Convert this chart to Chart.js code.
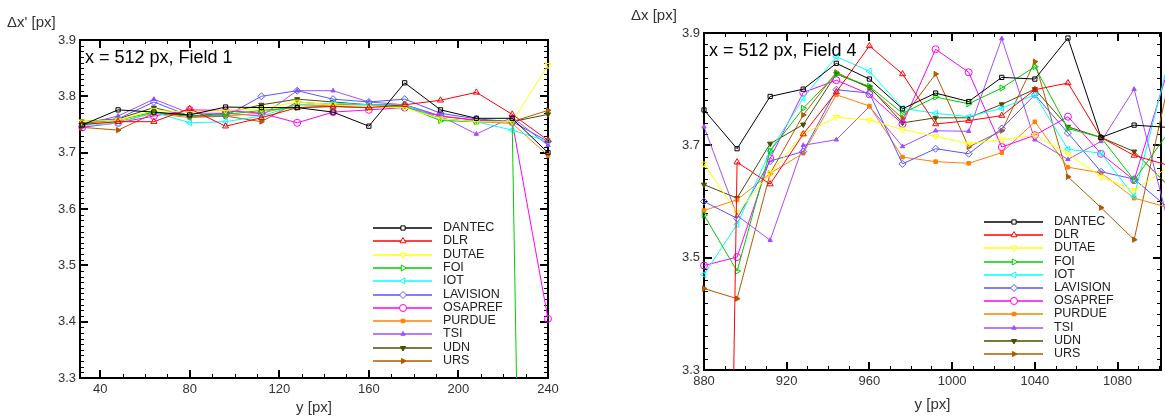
<!DOCTYPE html>
<html>
<head>
<meta charset="utf-8">
<script src="https://cdn.jsdelivr.net/npm/chart.js@4.4.1/dist/chart.umd.min.js"></script>
<style>
  html, body { margin: 0; padding: 0; background: #fff; overflow: hidden; }
  #wrap { position: relative; width: 1165px; height: 419px; overflow: hidden; }
  #field1 { position: absolute; left: 0; top: 0; }
  #field4 { position: absolute; left: 590px; top: 0; }
</style>
</head>
<body>
<div id="wrap">
  <canvas id="field1" width="590" height="419"></canvas>
  <canvas id="field4" width="576" height="419"></canvas>
</div>
<script>
const lineNames = ['DANTEC', 'DLR', 'DUTAE', 'FOI', 'IOT', 'LAVISION', 'OSAPREF', 'PURDUE', 'TSI', 'UDN', 'URS'];

// Field 1 panel: y positions and values per group
const f1Y = [32, 48, 64, 80, 96, 112, 128, 144, 160, 176, 192, 208, 224, 240];
const f1Dantec   = [3.749, 3.776, 3.772, 3.767, 3.781, 3.780, 3.780, 3.772, 3.747, 3.824, 3.776, 3.761, 3.761, 3.700];
const f1Dlr      = [3.750, 3.755, 3.755, 3.778, 3.747, 3.762, 3.780, 3.782, 3.780, 3.785, 3.793, 3.807, 3.768, 3.722];
const f1Dutae    = [3.755, 3.758, 3.775, 3.772, 3.775, 3.778, 3.790, 3.785, 3.780, 3.780, 3.760, 3.755, 3.755, 3.855];
const f1Foi      = [3.752, 3.758, 3.772, 3.765, 3.768, 3.775, 3.780, 3.782, 3.780, 3.782, 3.757, 3.755, 3.755, 0.0];
const f1Iot      = [3.748, 3.752, 3.772, 3.753, 3.755, 3.765, 3.785, 3.788, 3.785, 3.785, 3.760, 3.755, 3.740, 3.720];
const f1Lavision = [3.752, 3.760, 3.790, 3.765, 3.765, 3.800, 3.810, 3.795, 3.790, 3.795, 3.770, 3.760, 3.755, 3.720];
const f1Osapref  = [3.745, 3.753, 3.765, 3.776, 3.775, 3.770, 3.753, 3.772, 3.776, 3.780, 3.765, 3.757, 3.755, 3.405];
const f1Purdue   = [3.750, 3.755, 3.770, 3.762, 3.765, 3.770, 3.785, 3.783, 3.780, 3.782, 3.760, 3.755, 3.752, 3.695];
const f1Tsi      = [3.750, 3.765, 3.795, 3.770, 3.770, 3.765, 3.810, 3.810, 3.790, 3.785, 3.765, 3.733, 3.763, 3.713];
const f1Udn      = [3.755, 3.760, 3.780, 3.765, 3.770, 3.785, 3.795, 3.790, 3.785, 3.785, 3.760, 3.755, 3.755, 3.768];
const f1Urs      = [3.745, 3.740, 3.770, 3.765, 3.765, 3.755, 3.790, 3.785, 3.785, 3.785, 3.765, 3.758, 3.755, 3.775];

// Field 4 panel
const f4Y = [880, 896, 912, 928, 944, 960, 976, 992, 1008, 1024, 1040, 1056, 1072, 1088, 1104];
const f4Dantec   = [3.763, 3.694, 3.787, 3.800, 3.846, 3.818, 3.765, 3.793, 3.778, 3.821, 3.818, 3.891, 3.714, 3.736, 3.732];
const f4Dlr      = [0.0, 3.670, 3.631, 3.720, 3.795, 3.877, 3.827, 3.738, 3.744, 3.753, 3.799, 3.811, 3.714, 3.682, 3.665];
const f4Dutae    = [3.667, 3.580, 3.650, 3.720, 3.750, 3.745, 3.728, 3.716, 3.703, 3.710, 3.718, 3.685, 3.644, 3.620, 3.660];
const f4Foi      = [3.576, 3.476, 3.690, 3.766, 3.827, 3.805, 3.757, 3.786, 3.774, 3.802, 3.840, 3.730, 3.714, 3.638, 3.720];
const f4Iot      = [3.470, 3.559, 3.690, 3.784, 3.858, 3.832, 3.766, 3.757, 3.751, 3.766, 3.790, 3.693, 3.686, 3.609, 3.840];
const f4Lavision = [3.600, 3.570, 3.672, 3.689, 3.799, 3.793, 3.667, 3.694, 3.685, 3.730, 3.790, 3.722, 3.653, 3.640, 3.590];
const f4Osapref  = [3.486, 3.501, 3.677, 3.794, 3.816, 3.791, 3.738, 3.871, 3.830, 3.697, 3.718, 3.751, 3.685, 3.638, 3.830];
const f4Purdue   = [3.584, 3.603, 3.650, 3.686, 3.790, 3.770, 3.679, 3.671, 3.668, 3.687, 3.742, 3.661, 3.651, 3.606, 3.590];
const f4Tsi      = [3.733, 3.575, 3.531, 3.700, 3.710, 3.769, 3.698, 3.726, 3.725, 3.890, 3.710, 3.675, 3.707, 3.800, 3.570];
const f4Udn      = [3.630, 3.606, 3.703, 3.737, 3.827, 3.804, 3.740, 3.749, 3.749, 3.773, 3.800, 3.733, 3.714, 3.689, 3.630];
const f4Urs      = [3.445, 3.427, 3.650, 3.754, 3.830, 3.802, 3.748, 3.827, 3.697, 3.726, 3.849, 3.644, 3.589, 3.532, 3.800];

// tick labels
const f1XTicks = [40, 80, 120, 160, 200, 240];
const f1YTicks = [3.3, 3.4, 3.5, 3.6, 3.7, 3.8, 3.9];
const f4XTicks = [880, 920, 960, 1000, 1040, 1080];
const f4YTicks = [3.3, 3.5, 3.7, 3.9];

// marker look for each group
const lineColors = ['#000000', '#ff0000', '#ffff00', '#00cc00', '#00ffff', '#5555ff', '#ff00ff', '#ff8000', '#a34dff', '#4d4d00', '#b35900'];
const markerStyles = ['rect', 'triangle', 'triangle', 'triangle', 'triangle', 'rectRot', 'circle', 'rect', 'triangle', 'triangle', 'triangle'];
const markerTurns = [0, 0, 180, 90, 270, 0, 0, 0, 0, 180, 90];
const markerFilled = [false, false, false, false, false, false, false, true, true, true, true];
const markerSizes = [3, 3.5, 3.5, 3.5, 3.5, 3.5, 3.5, 2.5, 2.5, 3, 3];

const fontFamily = '"Liberation Sans", Arial, Helvetica, sans-serif';
Chart.defaults.font.family = fontFamily;

function makeDatasets(xs, groups) {
	return groups.map((vals, i) => ({
		label: lineNames[i],
		data: xs.map((x, k) => ({x: x, y: vals[k]})),
		borderColor: lineColors[i],
		backgroundColor: lineColors[i],
		borderWidth: 1,
		pointStyle: markerStyles[i],
		pointRotation: markerTurns[i],
		pointRadius: markerSizes[i],
		pointBorderWidth: 1,
		pointBorderColor: lineColors[i],
		pointBackgroundColor: markerFilled[i] ? lineColors[i] : 'rgba(0,0,0,0)',
		tension: 0,
		clip: {left: 6, top: 6, right: 6, bottom: 0}
	}));
}

// frame plus inward major / minor tick marks on all four sides
const framePlugin = {
	id: 'frame',
	beforeDatasetsDraw(chart, args, opts) {
		const {ctx, chartArea: a, scales: {x, y}} = chart;
		ctx.save();
		ctx.strokeStyle = '#000';

		ctx.lineWidth = 1;
		ctx.beginPath();
		for (let k = Math.ceil(x.min / opts.xMinor); k * opts.xMinor <= x.max; k++) {
			let px = Math.round(x.getPixelForValue(k * opts.xMinor)) + 0.5;
			ctx.moveTo(px, a.bottom); ctx.lineTo(px, a.bottom - 4);
			ctx.moveTo(px, a.top); ctx.lineTo(px, a.top + 4);
		}
		for (let k = Math.ceil(y.min / opts.yMinor - 1e-6); k * opts.yMinor <= y.max + 1e-6; k++) {
			let py = Math.round(y.getPixelForValue(k * opts.yMinor)) + 0.5;
			ctx.moveTo(a.left, py); ctx.lineTo(a.left + 4, py);
			ctx.moveTo(a.right, py); ctx.lineTo(a.right - 4, py);
		}
		ctx.stroke();

		ctx.lineWidth = 2;
		ctx.beginPath();
		x.ticks.forEach(t => {
			let px = Math.round(x.getPixelForValue(t.value));
			ctx.moveTo(px, a.bottom); ctx.lineTo(px, a.bottom - 8);
			ctx.moveTo(px, a.top); ctx.lineTo(px, a.top + 8);
		});
		y.ticks.forEach(t => {
			let py = Math.round(y.getPixelForValue(t.value));
			ctx.moveTo(a.left, py); ctx.lineTo(a.left + 8, py);
			ctx.moveTo(a.right, py); ctx.lineTo(a.right - 8, py);
		});
		ctx.stroke();

		ctx.strokeRect(a.left, a.top, a.right - a.left, a.bottom - a.top);
		ctx.restore();
	}
};

// legend box inside the plot, lines with markers
const keyPlugin = {
	id: 'key',
	afterDatasetsDraw(chart, args, opts) {
		const ctx = chart.ctx;
		ctx.save();
		chart.data.datasets.forEach((ds, i) => {
			let yy = Math.round(opts.y + i * opts.step);
			ctx.strokeStyle = ds.borderColor;
			ctx.globalAlpha = 0.75;
			ctx.lineWidth = 2;
			ctx.beginPath();
			ctx.moveTo(opts.x, yy);
			ctx.lineTo(opts.x + 59, yy);
			ctx.stroke();
			ctx.globalAlpha = 1;
			ctx.lineWidth = 1;
			ctx.fillStyle = ds.pointBackgroundColor === 'rgba(0,0,0,0)' ? '#fff' : ds.pointBackgroundColor;
			Chart.helpers.drawPoint(ctx, {
				pointStyle: ds.pointStyle,
				rotation: ds.pointRotation,
				radius: ds.pointRadius,
				borderWidth: 1
			}, opts.x + 30, yy);
			ctx.fillStyle = '#222';
			ctx.font = '12.5px ' + fontFamily;
			ctx.textBaseline = 'middle';
			ctx.fillText(ds.label, opts.x + 70, yy);
		});
		ctx.restore();
	}
};

// axis title above the y axis and panel note
const notePlugin = {
	id: 'note',
	afterDraw(chart, args, opts) {
		const {ctx, chartArea: a} = chart;
		ctx.save();
		ctx.fillStyle = '#333';
		ctx.font = '15px ' + fontFamily;
		ctx.textBaseline = 'middle';
		ctx.fillText(opts.axisTitle, a.left - 73, a.top - 17);
		ctx.fillStyle = '#000';
		ctx.font = '18px ' + fontFamily;
		ctx.textBaseline = 'alphabetic';
		ctx.fillText(opts.text, a.left + 5, a.top + 23);
		ctx.restore();
	}
};

function createPanel(id, xs, groups, cfg) {
	return new Chart(document.getElementById(id), {
		type: 'line',
		data: { datasets: makeDatasets(xs, groups) },
		plugins: [framePlugin, keyPlugin, notePlugin],
		options: {
			responsive: false,
			animation: false,
			layout: { padding: cfg.padding },
			plugins: {
				legend: { display: false },
				tooltip: { enabled: false },
				frame: { xMinor: 10, yMinor: cfg.yMinor },
				key: cfg.key,
				note: { axisTitle: cfg.axisTitle, text: cfg.note }
			},
			scales: {
				x: {
					type: 'linear',
					min: cfg.xMin,
					max: cfg.xMax,
					afterBuildTicks: s => { s.ticks = cfg.xTicks.map(v => ({value: v})); },
					afterFit: s => { s.height = cfg.xHeight; },
					grid: { display: false, drawTicks: false },
					border: { display: false },
					ticks: { color: '#333', font: { size: 13 }, padding: 4, maxRotation: 0, autoSkip: false, callback: v => String(v) },
					title: { display: true, text: 'y [px]', color: '#333', font: { size: 15 }, padding: { top: 0, bottom: cfg.titlePad } }
				},
				y: {
					type: 'linear',
					min: 3.3,
					max: 3.9,
					afterBuildTicks: s => { s.ticks = cfg.yTicks.map(v => ({value: v})); },
					afterFit: s => { s.width = cfg.yWidth; },
					grid: { display: false, drawTicks: false },
					border: { display: false },
					ticks: { color: '#333', font: { size: 13 }, padding: 4, autoSkip: false, callback: v => v.toFixed(1) }
				}
			}
		}
	});
}

createPanel('field1', f1Y,
	[f1Dantec, f1Dlr, f1Dutae, f1Foi, f1Iot, f1Lavision, f1Osapref, f1Purdue, f1Tsi, f1Udn, f1Urs], {
	padding: { left: 0, top: 40, right: 42, bottom: 0 },
	xMin: 31, xMax: 240, xTicks: f1XTicks, yTicks: f1YTicks, yMinor: 0.01,
	xHeight: 41, yWidth: 80, titlePad: 2,
	key: { x: 373, y: 228, step: 13.3 },
	axisTitle: "\u0394x' [px]",
	note: 'x = 512 px, Field 1'
});

createPanel('field4', f4Y,
	[f4Dantec, f4Dlr, f4Dutae, f4Foi, f4Iot, f4Lavision, f4Osapref, f4Purdue, f4Tsi, f4Udn, f4Urs], {
	padding: { left: 0, top: 33, right: 0, bottom: 0 },
	xMin: 880, xMax: 1101, xTicks: f4XTicks, yTicks: f4YTicks, yMinor: 0.02,
	xHeight: 49, yWidth: 114, titlePad: 5,
	key: { x: 394, y: 222, step: 13.2 },
	axisTitle: '\u0394x [px]',
	note: 'x = 512 px, Field 4'
});
</script>
</body>
</html>
